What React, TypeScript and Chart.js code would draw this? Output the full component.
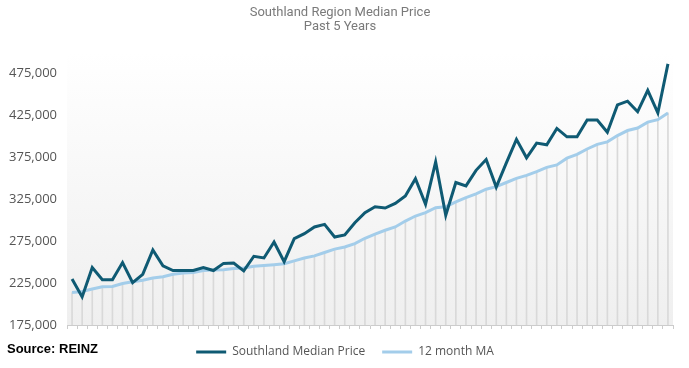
import React, { useEffect, useRef } from "react";
import { Chart, registerables } from "chart.js";

Chart.register(...registerables);

const months: string[] = [
  "Jun-16", "Jul-16", "Aug-16", "Sep-16", "Oct-16", "Nov-16", "Dec-16", "Jan-17", "Feb-17", "Mar-17", "Apr-17", "May-17",
  "Jun-17", "Jul-17", "Aug-17", "Sep-17", "Oct-17", "Nov-17", "Dec-17", "Jan-18", "Feb-18", "Mar-18", "Apr-18", "May-18",
  "Jun-18", "Jul-18", "Aug-18", "Sep-18", "Oct-18", "Nov-18", "Dec-18", "Jan-19", "Feb-19", "Mar-19", "Apr-19", "May-19",
  "Jun-19", "Jul-19", "Aug-19", "Sep-19", "Oct-19", "Nov-19", "Dec-19", "Jan-20", "Feb-20", "Mar-20", "Apr-20", "May-20",
  "Jun-20", "Jul-20", "Aug-20", "Sep-20", "Oct-20", "Nov-20", "Dec-20", "Jan-21", "Feb-21", "Mar-21", "Apr-21", "May-21",
];

const medianPrice: number[] = [
  230000, 208500, 243500, 229000, 229000, 249500, 225500, 235500, 264500, 245500, 240000, 240000,
  240000, 243500, 240000, 248500, 249000, 239500, 257000, 255000, 274000, 250500, 278000, 284000,
  292000, 295000, 280000, 282500, 297000, 309000, 316000, 314500, 320000, 329000, 349500, 319000,
  369500, 306000, 345000, 341000, 359500, 372500, 339500, 368500, 396500, 374500, 392000, 390000,
  409500, 399500, 399500, 419500, 419500, 405000, 437500, 442000, 429500, 455000, 428000, 486500,
];

const movingAverage: number[] = [
  213800, 215000, 218000, 220500, 221000, 224500, 226500, 228500, 231000, 232500, 235500, 237000,
  237500, 240000, 240500, 241000, 242500, 243000, 245000, 246000, 247000, 248000, 251500, 255000,
  257500, 261500, 265500, 268000, 272000, 278500, 283500, 288000, 292000, 299000, 305000, 309000,
  315000, 316000, 322000, 327000, 331500, 337000, 340000, 345000, 350000, 353500, 358000, 363000,
  366000, 374000, 378500, 385000, 390500, 393500, 401000, 407000, 410000, 417000, 420000, 428000,
];

const yTicks: number[] = [175000, 225000, 275000, 325000, 375000, 425000, 475000];
const titleLines: string[] = ["Southland Region Median Price", "Past 5 Years"];
const seriesNames: string[] = ["Southland Median Price", "12 month MA"];
const sourceText = "Source: REINZ";

const bgPlugin = {
  id: "plotBg",
  afterLayout(chart: any) {
    if (chart.legend) {
      chart.legend.left += 5;
      chart.legend.right += 5;
    }
  },
  beforeDatasetsDraw(chart: any) {
    const { ctx, chartArea } = chart;
    if (!chartArea) return;
    const g = ctx.createLinearGradient(0, chartArea.top, 0, chartArea.bottom);
    g.addColorStop(0, "#ffffff");
    g.addColorStop(1, "#efefef");
    ctx.save();
    ctx.fillStyle = g;
    ctx.fillRect(chartArea.left, chartArea.top, chartArea.right - chartArea.left, chartArea.bottom - chartArea.top);
    ctx.restore();
  },
};

export default function App() {
  const ref = useRef<HTMLCanvasElement | null>(null);

  useEffect(() => {
    if (!ref.current) return;
    const chart = new Chart(ref.current, {
      type: "bar",
      data: {
        labels: months,
        datasets: [
          {
            type: "line",
            label: seriesNames[0],
            data: medianPrice,
            borderColor: "#0f5a73",
            backgroundColor: "#0f5a73",
            borderWidth: 3,
            pointRadius: 0,
            tension: 0,
            order: 1,
          } as any,
          {
            type: "line",
            label: seriesNames[1],
            data: movingAverage,
            borderColor: "#a3cdea",
            backgroundColor: "#a3cdea",
            borderWidth: 3,
            pointRadius: 0,
            tension: 0,
            order: 2,
          } as any,
          {
            type: "bar",
            label: "drop",
            data: movingAverage,
            backgroundColor: "#d9d9d9",
            barThickness: 1,
            order: 3,
          } as any,
        ],
      },
      options: {
        animation: false,
        responsive: true,
        maintainAspectRatio: false,
        layout: { padding: { left: 7, right: 16, top: 0, bottom: 0 } },
        plugins: {
          title: {
            display: true,
            text: titleLines,
            color: "#7a7a7a",
            font: { family: "Roboto", size: 13, weight: "normal" as any, lineHeight: 1.08 },
            padding: { top: 6, bottom: 18.5 },
          },
          legend: {
            display: true,
            position: "bottom",
            labels: {
              color: "#555555",
              font: { family: "'Open Sans'", size: 12 },
              usePointStyle: true,
              pointStyle: "line",
              pointStyleWidth: 30,
              boxHeight: 3,
              padding: 17,
              filter: (item: any) => item.datasetIndex !== 2,
            },
          },
          tooltip: { enabled: false },
        },
        scales: {
          x: {
            offset: true,
            grid: { display: true, drawOnChartArea: false, drawTicks: true, tickLength: 4, color: "#cccccc", offset: true },
            border: { display: true, color: "#cccccc" },
            ticks: { display: false },
          },
          y: {
            min: 175000,
            max: 500000,
            afterBuildTicks: (scale: any) => {
              scale.ticks = yTicks.map((v) => ({ value: v }));
            },
            afterFit: (scale: any) => {
              scale.width = 60;
            },
            grid: { display: false, drawTicks: false },
            border: { display: false },
            ticks: {
              color: "#555555",
              padding: 10,
              font: { family: "'Open Sans'", size: 13 },
              callback: (v: any) => Number(v).toLocaleString("en-US"),
            },
          },
        },
      },
      plugins: [bgPlugin],
    });
    return () => chart.destroy();
  }, []);

  return (
    <div style={{ position: "fixed", left: 0, top: 0, width: 689, height: 368, background: "#fff" }}>
      <canvas ref={ref} />
      <div
        style={{
          position: "absolute",
          left: 7,
          top: 341,
          fontFamily: "'Liberation Sans', Arial, sans-serif",
          fontWeight: "bold",
          fontSize: 13,
          color: "#000",
          lineHeight: "16px",
        }}
      >
        {sourceText}
      </div>
    </div>
  );
}
